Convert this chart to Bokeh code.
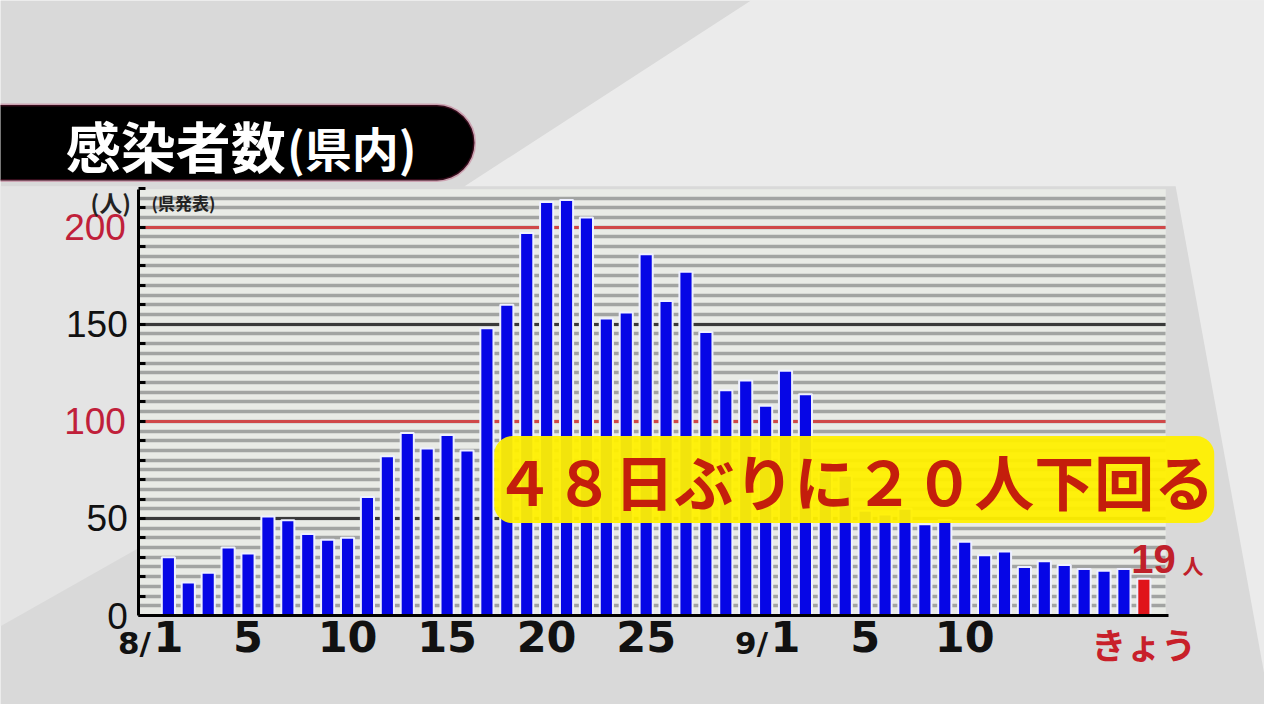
from bokeh.plotting import figure
from bokeh.models import (FixedTicker, Label, Range1d, ColumnDataSource, Grid,
                          BoxAnnotation, PolyAnnotation)
from bokeh.embed import file_html
from bokeh.resources import INLINE

# ---------------- data ----------------
dates = [f"8/{d}" for d in range(1, 32)] + [f"9/{d}" for d in range(1, 20)]
cases = [30, 17, 22, 35, 32, 51, 49, 42, 39, 40, 61, 82, 94, 86, 93, 85,
         148, 160, 197, 213, 214, 205, 153, 156, 186, 162, 177, 146, 116, 121, 108,
         126, 114, 74, 72, 54, 52, 55, 47, 49, 38, 31, 33, 25, 28, 26, 24, 23, 24, 19]
x_tick_pos = [0, 4, 9, 14, 19, 24, 31, 35, 40]
x_tick_text = ["1", "5", "10", "15", "20", "25", "1", "5", "10"]
x_month_prefix = ["8/", "9/"]
today_label = "きょう"
y_label_ticks = [0, 50, 150]
y_red_ticks = [100, 200]
y_dark_ticks = [50, 150]
title_main = "感染者数"
title_sub = "(県内)"
unit_label = "(人)"
source_label = "(県発表)"
headline = "４８日ぶりに２０人下回る"
today_value_text = "19"
today_unit = "人"

# ---------------- geometry helpers (reference px -> data) ----------------
PX0, DXP = 170.0, 20.16
PY0, DYP = 629.0, 1.986


def X(px):
    return (px - PX0) / DXP


def Y(py):
    return (PY0 - py) / DYP


n = len(cases)
xs = list(range(n))
colors = ["#0606e6"] * (n - 1) + ["#e0141a"]
src = ColumnDataSource(dict(x=xs, top=cases, color=colors, date=dates))

YMAX = Y(193)
XL, XR = X(140), X(1180)

p = figure(width=1264, height=704, output_backend="svg", toolbar_location=None,
           x_range=Range1d(X(0), X(1280)), y_range=Range1d(Y(720), Y(0)),
           min_border=0)
p.border_fill_color = "#d9d9d9"
p.background_fill_color = "#d9d9d9"
p.outline_line_color = None

# soft background shapes
p.add_layout(PolyAnnotation(xs=[X(760), X(1280), X(1280), X(1190), X(470)],
                            ys=[Y(0), Y(0), Y(690), Y(190), Y(190)],
                            fill_color="#ebebeb", fill_alpha=1.0,
                            line_color=None, level="image"))
p.add_layout(PolyAnnotation(xs=[X(0), X(140), X(140), X(0)],
                            ys=[Y(190), Y(190), Y(560), Y(640)],
                            fill_color="#e4e4e4", fill_alpha=1.0,
                            line_color=None, level="image"))

# striped plot area
p.add_layout(BoxAnnotation(left=XL, right=XR, bottom=0, top=YMAX,
                           fill_color="#e9ebe6", fill_alpha=1.0,
                           line_color=None, level="image"))

# grid
p.xgrid.visible = False
p.ygrid.ticker = FixedTicker(ticks=list(range(5, 220, 5)))
p.ygrid.grid_line_color = "#a2a4a2"
p.ygrid.grid_line_width = 3.5
p.ygrid.cross_bounds = (XL, XR)

g_dark = Grid(dimension=1, ticker=FixedTicker(ticks=y_dark_ticks),
              grid_line_color="#3a3a3a", grid_line_width=3, cross_bounds=(XL, XR))
g_red = Grid(dimension=1, ticker=FixedTicker(ticks=y_red_ticks),
             grid_line_color="#d04848", grid_line_width=3, cross_bounds=(XL, XR))
p.add_layout(g_dark)
p.add_layout(g_red)

# bars
p.vbar(x="x", top="top", width=0.66, fill_color="color", line_color="#eef0ff",
       line_width=2, source=src)

# y axis (fixed in place at the left edge of the plot area)
ya = p.yaxis[0]
ya.fixed_location = XL
ya.bounds = (0, YMAX)
ya.ticker = FixedTicker(ticks=list(range(0, 221, 10)))
ya.major_tick_in = 7
ya.major_tick_out = 0
ya.major_tick_line_width = 3
ya.major_tick_line_color = "black"
ya.minor_tick_line_color = None
ya.axis_line_width = 3
ya.axis_line_color = "black"
ya.major_label_overrides = {t: (str(t) if t in y_label_ticks else "")
                            for t in range(0, 221, 10)}
ya.major_label_text_font = "Liberation Sans"
ya.major_label_text_font_size = "37px"
ya.major_label_text_color = "#111111"
ya.major_label_standoff = 11

# x axis (fixed at zero)
xa = p.xaxis[0]
xa.fixed_location = 0
xa.bounds = (XL, X(1183))
xa.ticker = FixedTicker(ticks=x_tick_pos)
xa.major_label_overrides = dict(zip(x_tick_pos, x_tick_text))
xa.major_tick_in = 0
xa.major_tick_out = 0
xa.minor_tick_line_color = None
xa.axis_line_width = 3
xa.axis_line_color = "black"
xa.major_label_text_font = "DejaVu Sans"
xa.major_label_text_font_style = "bold"
xa.major_label_text_font_size = "43px"
xa.major_label_text_color = "#111111"
xa.major_label_standoff = 5


def lab(**kw):
    p.add_layout(Label(**kw))


# red y labels
for t in y_red_ticks:
    lab(x=X(127), y=t, text=str(t), text_align="right",
        text_baseline="middle", text_font="Liberation Sans",
        text_font_size="37px", text_color="#c0203a")

# month prefixes
for i, pre in zip([0, 31], x_month_prefix):
    lab(x=i - 0.88, y=Y(657), text=pre, text_align="right",
        text_baseline="alphabetic", text_font="DejaVu Sans",
        text_font_style="bold", text_font_size="31px", text_color="#111111")

# today label
lab(x=n - 1, y=Y(658), text=today_label, text_align="center",
    text_baseline="middle", text_font="Noto Sans CJK JP",
    text_font_style="bold", text_font_size="35px", text_color="#c8202a")

# 19人
lab(x=X(1145), y=Y(571), text=today_value_text, text_align="left",
    text_baseline="middle", text_font="Liberation Sans",
    text_font_style="bold", text_font_size="40px", text_color="#c0202a")
lab(x=X(1197), y=Y(577), text=today_unit, text_align="left",
    text_baseline="middle", text_font="Noto Sans CJK JP",
    text_font_style="bold", text_font_size="21px", text_color="#c0202a")

# unit / source labels
lab(x=X(132), y=Y(206), text=unit_label, text_align="right",
    text_baseline="middle", text_font="Noto Sans CJK JP",
    text_font_style="bold", text_font_size="23px", text_color="#222222")
lab(x=X(153), y=Y(207), text=source_label, text_align="left",
    text_baseline="middle", text_font="Noto Sans CJK JP",
    text_font_style="bold", text_font_size="17px", text_color="#222222")

# headline
lab(x=X(500), y=Y(490), text=headline, text_align="left",
    text_baseline="middle", text_font="Noto Sans CJK JP",
    text_font_style="bold", text_font_size="60px",
    text_color="#c41e0c", background_fill_color="#fff000",
    background_fill_alpha=0.95, padding=0, border_radius=18)

# title box + text
p.add_layout(BoxAnnotation(left=X(-40), right=X(480), top=Y(107), bottom=Y(184),
                           fill_color="black", fill_alpha=1.0,
                           line_color="#b02858", line_width=3,
                           border_radius=38))
lab(x=X(66), y=Y(147), text=title_main, text_align="left",
    text_baseline="middle", text_font="Noto Sans CJK JP",
    text_font_style="bold", text_font_size="55px", text_color="white")
lab(x=X(290), y=Y(149), text=title_sub, text_align="left",
    text_baseline="middle", text_font="Noto Sans CJK JP",
    text_font_style="bold", text_font_size="47px", text_color="white")

open("out.html", "w").write(file_html(p, INLINE))
